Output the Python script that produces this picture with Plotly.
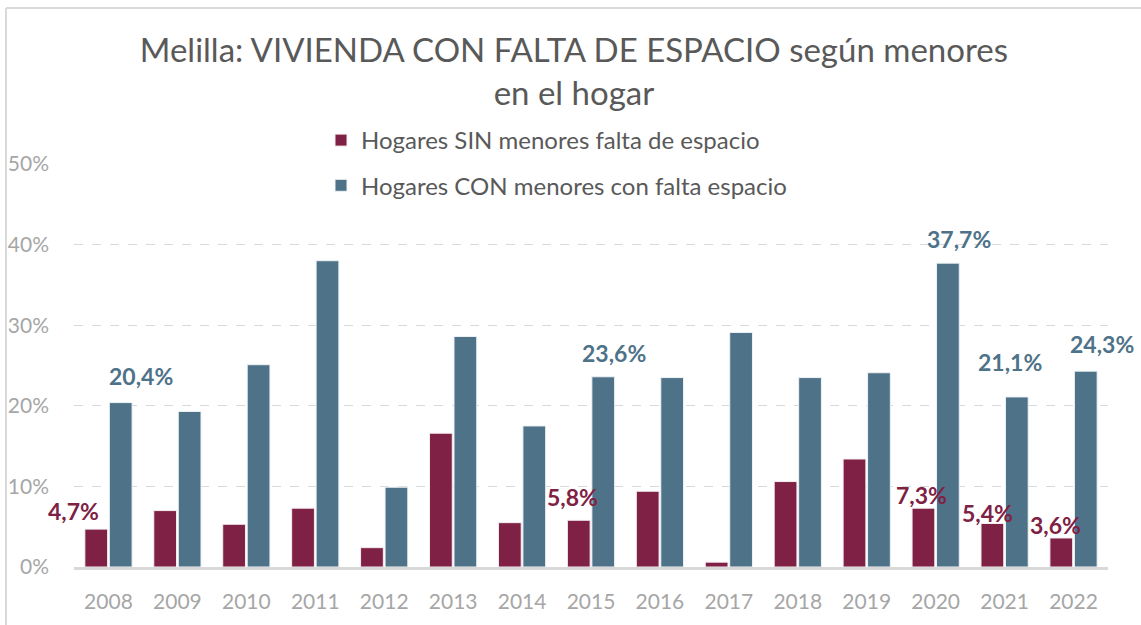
import plotly.graph_objects as go

years = ["2008", "2009", "2010", "2011", "2012", "2013", "2014", "2015",
         "2016", "2017", "2018", "2019", "2020", "2021", "2022"]
sin_menores = [4.7, 7.0, 5.3, 7.3, 2.4, 16.6, 5.5, 5.8, 9.4, 0.6, 10.6, 13.4, 7.3, 5.4, 3.6]
con_menores = [20.4, 19.3, 25.1, 38.0, 9.9, 28.6, 17.5, 23.6, 23.5, 29.1, 23.5, 24.1, 37.7, 21.1, 24.3]
name_sin = "Hogares SIN menores falta de espacio"
name_con = "Hogares CON menores con falta espacio"
title_text = "Melilla: VIVIENDA CON FALTA DE ESPACIO según menores<br>en el hogar"
y_ticks = [0, 10, 20, 30, 40, 50]
y_ticklabels = ["0%", "10%", "20%", "30%", "40%", "50%"]

# years that show a data label, with pixel offsets (style only)
sin_label_years = ["2008", "2015", "2020", "2021", "2022"]
sin_label_shift = {"2008": (-35, 18), "2015": (-19, 23), "2020": (-14, 13), "2021": (-17, 10), "2022": (-18, 13)}
con_label_years = ["2008", "2015", "2020", "2021", "2022"]
con_label_shift = {"2008": (33, 27), "2015": (23, 24), "2020": (23, 24), "2021": (5, 35), "2022": (28, 27)}

RED = "#7E2144"
BLUE = "#4E7389"
FONT = "Lato"

fig = go.Figure()
fig.add_trace(go.Bar(x=years, y=sin_menores, name=name_sin, legendgroup="a",
                     marker=dict(color=RED, line=dict(color="#f4eef0", width=1))))
fig.add_trace(go.Bar(x=years, y=con_menores, name=name_con, legendgroup="b",
                     marker=dict(color=BLUE, line=dict(color="#eef2f5", width=1))))

def fmt(v):
    return f"{v:.1f}".replace(".", ",") + "%"

annotations = []
for yr in sin_label_years:
    i = years.index(yr)
    dx, dy = sin_label_shift[yr]
    annotations.append(dict(x=i, y=sin_menores[i], xref="x", yref="y", text=fmt(sin_menores[i]),
                            showarrow=False, xshift=dx, yshift=dy, yanchor="middle",
                            font=dict(family=FONT, size=23, color=RED, weight="bold")))
for yr in con_label_years:
    i = years.index(yr)
    dx, dy = con_label_shift[yr]
    annotations.append(dict(x=i, y=con_menores[i], xref="x", yref="y", text=fmt(con_menores[i]),
                            showarrow=False, xshift=dx, yshift=dy, yanchor="middle",
                            font=dict(family=FONT, size=23, color=BLUE, weight="bold")))

W, H = 1141, 625
L, R, T, B = 74, 33, 164, 58
pw, ph = W - L - R, H - T - B

def px2paper_x(px):
    return (px - L) / pw

def py2paper_y(py):
    return (H - B - py) / ph

shapes = [
    dict(type="line", xref="paper", yref="paper", x0=px2paper_x(6), x1=px2paper_x(6),
         y0=py2paper_y(8), y1=py2paper_y(H + 5), line=dict(color="#d9d9d9", width=2)),
    dict(type="line", xref="paper", yref="paper", x0=px2paper_x(6), x1=px2paper_x(W + 5),
         y0=py2paper_y(8), y1=py2paper_y(8), line=dict(color="#d9d9d9", width=2)),
]

fig.update_layout(
    width=W, height=H,
    margin=dict(l=L, r=R, t=T, b=B, autoexpand=False),
    paper_bgcolor="white", plot_bgcolor="white",
    barmode="group", bargap=0.29, bargroupgap=0.07,
    title=dict(text=title_text, x=0.503, xanchor="center", xref="container",
               y=1 - 62 / H, yanchor="top", yref="container",
               font=dict(family=FONT, size=33, color="#595959")),
    legend=dict(x=px2paper_x(321), xanchor="left", y=1 + (T - 118) / ph, yanchor="top",
                bgcolor="rgba(0,0,0,0)", font=dict(family=FONT, size=24, color="#595959"),
                tracegroupgap=11, traceorder="grouped"),
    xaxis=dict(type="category", range=[-0.5, len(years) - 0.5], autorange=False, automargin=False,
               showgrid=False, showline=True, linecolor="#d9d9d9", linewidth=3,
               ticks="", tickfont=dict(family=FONT, size=21, color="#a6a6a6"),
               ticklabelstandoff=14),
    yaxis=dict(range=[0, 50], autorange=False, automargin=False, tickvals=y_ticks, ticktext=y_ticklabels,
               showline=False, showgrid=True, gridcolor="#d9d9d9", griddash="dash", gridwidth=1,
               zeroline=False, ticks="", ticklabelstandoff=24,
               tickfont=dict(family=FONT, size=21, color="#a6a6a6")),
    annotations=annotations,
    shapes=shapes,
    showlegend=True,
)

fig.write_html("out.html", config={"displayModeBar": False},
               post_script="document.body.style.margin='0';")
